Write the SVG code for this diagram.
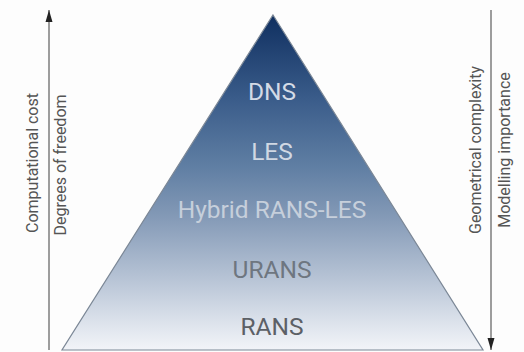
<svg xmlns="http://www.w3.org/2000/svg" width="524" height="352" viewBox="0 0 524 352">
<style>
.axis{stroke:#6a6a6a;stroke-width:1.3;fill:none}
.axlbl{font-family:Roboto,"Liberation Sans",sans-serif;font-size:16px;fill:#555555;text-anchor:middle}
.lvl{font-family:Roboto,"Liberation Sans",sans-serif;font-size:24.5px;text-anchor:middle}
</style>
<defs>
<linearGradient id="pg" gradientUnits="userSpaceOnUse" x1="0" y1="15" x2="0" y2="350">
<stop offset="0" stop-color="#0f2f60"/>
<stop offset="0.25" stop-color="#3a5c8a"/>
<stop offset="0.45" stop-color="#5f7ea3"/>
<stop offset="0.6" stop-color="#8399b6"/>
<stop offset="0.78" stop-color="#b5c2d4"/>
<stop offset="0.92" stop-color="#dde3ec"/>
<stop offset="1" stop-color="#f2f4f8"/>
</linearGradient>
<marker id="ah" viewBox="0 0 12 8" refX="12" refY="4" markerWidth="12" markerHeight="8" markerUnits="userSpaceOnUse" orient="auto">
<path d="M0,0.5 L12,4 L0,7.5 Z" fill="#222"/>
</marker>
</defs>
<rect width="524" height="352" fill="#fdfdfd"/>
<g id="pyramid">
<polygon points="273,15 483,350 62,350" fill="url(#pg)" stroke="#7b8796" stroke-width="1.2"/>
</g>
<g id="connectors">
<line class="axis" x1="49" y1="350" x2="49" y2="10" marker-end="url(#ah)"/>
<line class="axis" x1="491" y1="10" x2="491" y2="350" marker-end="url(#ah)"/>
</g>
<g id="left-labels">
<text class="axlbl" transform="translate(38,163) rotate(-90)">Computational cost</text>
<text class="axlbl" transform="translate(66,165) rotate(-90)">Degrees of freedom</text>
</g>
<g id="right-labels">
<text class="axlbl" transform="translate(481,150) rotate(-90)">Geometrical complexity</text>
<text class="axlbl" transform="translate(510,150) rotate(-90)">Modelling importance</text>
</g>
<g id="dns"><text class="lvl" x="272" y="100" fill="#d3dbe6">DNS</text></g>
<g id="les"><text class="lvl" x="272" y="160" fill="#d0d8e3">LES</text></g>
<g id="hybrid"><text class="lvl" x="272" y="218" fill="#c6cfdb">Hybrid RANS-LES</text></g>
<g id="urans"><text class="lvl" x="272" y="278" fill="#6e7680">URANS</text></g>
<g id="rans"><text class="lvl" x="272" y="335" fill="#5c6066">RANS</text></g>
</svg>
